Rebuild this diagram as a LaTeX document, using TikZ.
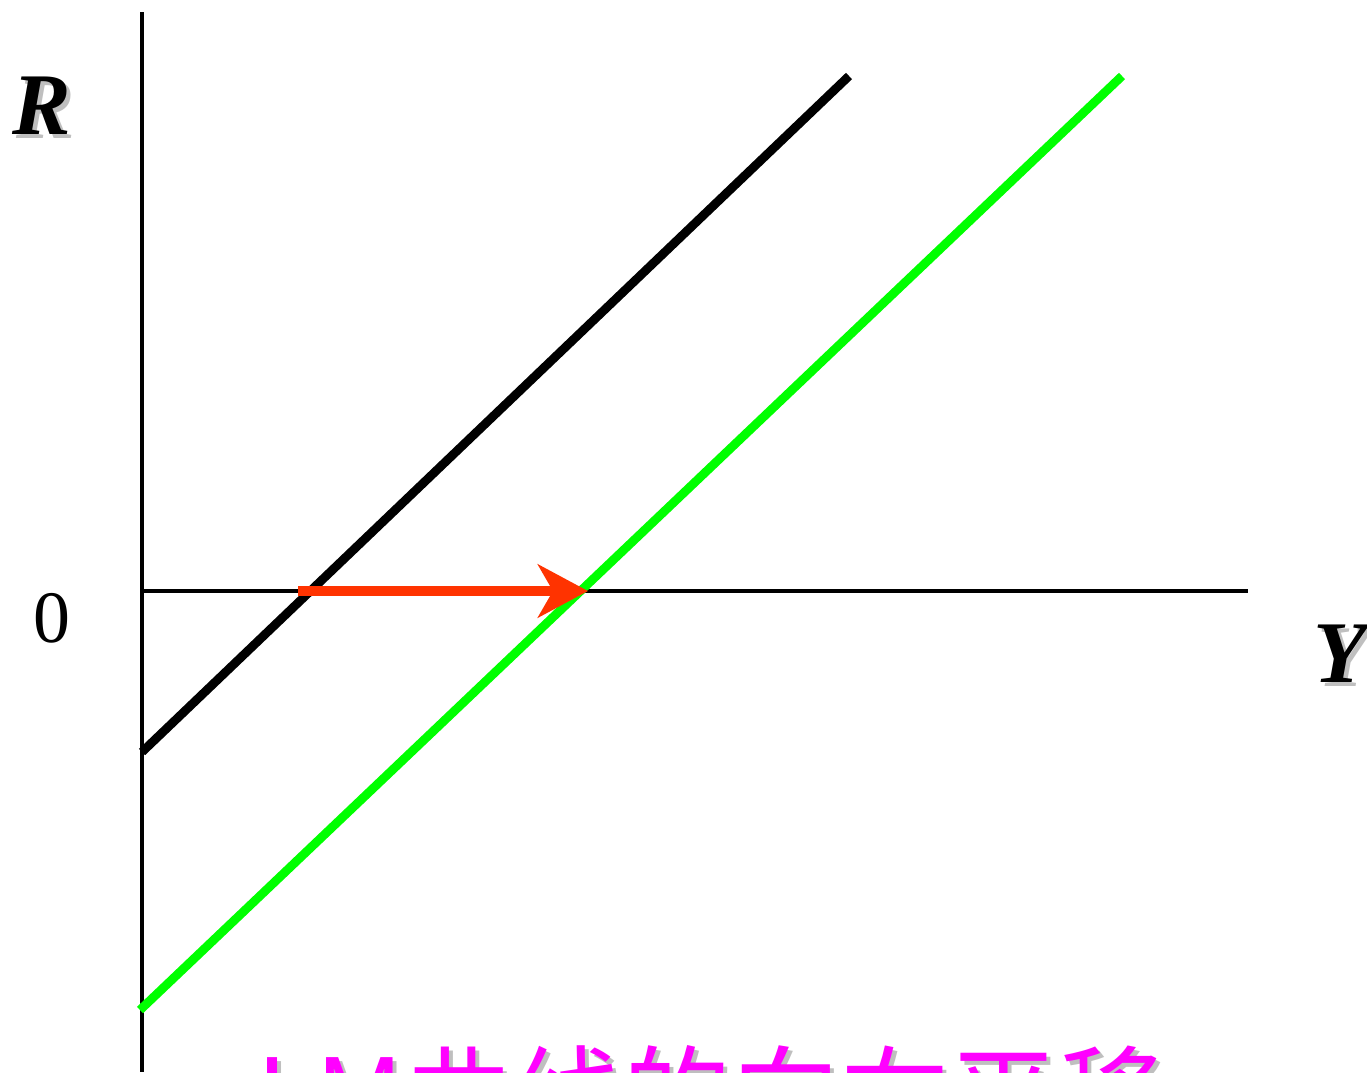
\documentclass[tikz,border=0pt]{standalone}
\usepackage{fontspec}
\setmainfont{Liberation Serif}
\newfontfamily\cjk{Noto Sans CJK SC}
\usetikzlibrary{arrows.meta, positioning}
\definecolor{lmGreen}{HTML}{00FF00}
\definecolor{shiftRed}{HTML}{FF3300}
\definecolor{titleMagenta}{HTML}{FF00FF}

\begin{document}
\begin{tikzpicture}[x=0.01cm, y=-0.01cm,
  axis/.style={line width=1.25pt, black},
  lmold/.style={line width=2.5pt, black},
  lmnew/.style={line width=2.5pt, lmGreen},
  shiftarr/.style={line width=3pt, shiftRed, -{Stealth[length=0.5cm, width=0.53cm, inset=0.15cm]}},
  axlabel/.style={font=\fontsize{25}{25}\selectfont\bfseries\itshape, inner sep=0pt},
  shadow/.style={text=black!25}
]
\useasboundingbox (0,0) rectangle (1367,1072);
\clip (0,0) rectangle (1367,1072);
% axes
\coordinate (O) at (142,591);
\coordinate (Rtop) at (142,12);
\coordinate (Rbot) at (142,1072);
\coordinate (Yend) at (1248,591);
\draw[axis] (Rtop) -- (Rbot);
\draw[axis] (O) -- (Yend);
% LM curves
\coordinate (lm1a) at (142,752);
\coordinate (lm1b) at (849,76);
\coordinate (lm2a) at (140,1010);
\coordinate (lm2b) at (1122,76);
\draw[lmold] (lm1a) -- (lm1b);
\draw[lmnew] (lm2a) -- (lm2b);
% shift
\coordinate (s1) at (298,591);
\coordinate (s2) at (588,591);
\draw[shiftarr] (s1) -- (s2);
% labels
\node[axlabel, shadow] at (46,110) {R};
\node[axlabel] (rlab) at (42,106) {R};
\node[axlabel, shadow] at (1344,658) {Y};
\node[axlabel] (ylab) at (1340,654) {Y};
\node[font=\fontsize{21}{21}\selectfont, inner sep=0pt] (zero) at (52,618) {0};
\node[font=\cjk\fontsize{31}{31}\selectfont, text=black!25, inner sep=0pt] at (716,1100) {LM曲线的向右平移};
\node[font=\cjk\fontsize{31}{31}\selectfont, text=titleMagenta, inner sep=0pt] (title) at (712,1096) {LM曲线的向右平移};
\end{tikzpicture}
\end{document}
